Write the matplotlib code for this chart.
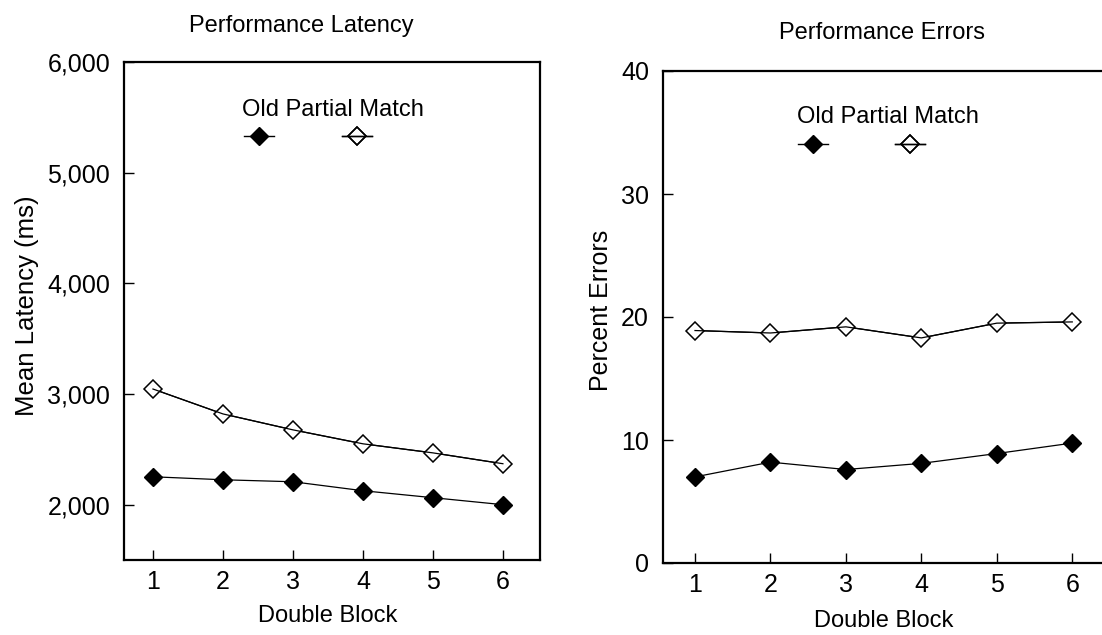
import numpy as np
import matplotlib.pyplot as plt
from matplotlib.lines import Line2D
from matplotlib.ticker import FuncFormatter

plt.rcParams['font.family'] = ['Liberation Sans', 'DejaVu Sans']

blocks = [1, 2, 3, 4, 5, 6]

# latency (ms)
lat_old = [2252, 2225, 2207, 2126, 2063, 2000]
lat_partial = [3045, 2820, 2676, 2550, 2468, 2370]

# percent errors
err_old = [7.0, 8.2, 7.6, 8.1, 8.9, 9.75]
err_partial = [18.9, 18.7, 19.2, 18.3, 19.5, 19.6]

lat_ticks = [2000, 3000, 4000, 5000, 6000]
err_ticks = [0, 10, 20, 30, 40]

W, H = 1102, 635
fig = plt.figure(figsize=(W / 100, H / 100), dpi=100)


def px_axes(box):
    x0, y0, x1, y1 = box
    return fig.add_axes([x0 / W, 1 - y1 / H, (x1 - x0) / W, (y1 - y0) / H])


def ax_frac(box, x, y):
    x0, y0, x1, y1 = box
    return (x - x0) / (x1 - x0), (y1 - y) / (y1 - y0)


def style(ax, xlim, ylim, yticks, fmt, label_y):
    ax.set_xlim(*xlim)
    ax.set_ylim(*ylim)
    ax.set_xticks(blocks)
    ax.set_yticks(yticks)
    ax.yaxis.set_major_formatter(FuncFormatter(fmt))
    for s in ax.spines.values():
        s.set_linewidth(1.6)
    ax.tick_params(direction='in', length=7, width=1, labelsize=18)
    ax.tick_params(axis='x', pad=7)
    ax.tick_params(axis='y', pad=10)
    frac = (3.5 - xlim[0]) / (xlim[1] - xlim[0])
    ax.set_xlabel('Double Block', fontsize=17)
    ax.xaxis.set_label_coords(frac, label_y)


def key(ax, handle, pos):
    leg = ax.legend([handle], [''], frameon=False, loc='center',
                    bbox_to_anchor=pos, fontsize=17, handlelength=1.25,
                    handletextpad=0, borderpad=0, borderaxespad=0)
    ax.add_artist(leg)


def draw(ax, box, old, partial, title_px, old_px, par_px):
    ax.plot(blocks, partial, color='black', lw=0.9, marker='D', ms=9,
            mfc='white', mec='black', mew=1.1, zorder=3)
    ax.plot(blocks, partial, color='black', lw=0.9, zorder=4)
    ax.plot(blocks, old, color='black', lw=0.9, marker='D', ms=9,
            mfc='black', mec='black', zorder=3)
    h_old = Line2D([], [], color='black', lw=1, marker='D', ms=9, mfc='black')
    h_par = Line2D([], [], color='black', lw=1, marker='D', ms=9,
                   mfc='none', mew=1.1)
    key(ax, h_old, ax_frac(box, *old_px))
    key(ax, h_par, ax_frac(box, *par_px))
    tx, ty = ax_frac(box, *title_px)
    ax.text(tx, ty, 'Old Partial Match', transform=ax.transAxes,
            ha='center', va='center', fontsize=17)


# left panel: latency
box1 = (124, 62, 540, 560)
ax1 = px_axes(box1)
draw(ax1, box1, lat_old, lat_partial, (333, 110), (259, 138), (357, 138))
style(ax1, (0.586, 6.53), (1500, 6000), lat_ticks,
      lambda v, p: f'{int(v):,}', -0.09)
fig.text(27 / W, 1 - 306 / H, 'Mean Latency (ms)', rotation=90,
         ha='center', va='center', fontsize=18.5)
fig.text(301 / W, 1 - 26 / H, 'Performance Latency', ha='center',
         va='center', fontsize=17)

# right panel: errors (cut off at right edge)
box2 = (663, 71, 1110, 563)
ax2 = px_axes(box2)
draw(ax2, box2, err_old, err_partial, (888, 117), (813, 146), (910, 146))
style(ax2, (0.576, 6.5), (0, 40), err_ticks, lambda v, p: f'{int(v)}', -0.095)
fig.text(601 / W, 1 - 310 / H, 'Percent Errors', rotation=90,
         ha='center', va='center', fontsize=18)
fig.text(882 / W, 1 - 33 / H, 'Performance Errors', ha='center',
         va='center', fontsize=17)

fig.savefig('out.png', dpi=100)
